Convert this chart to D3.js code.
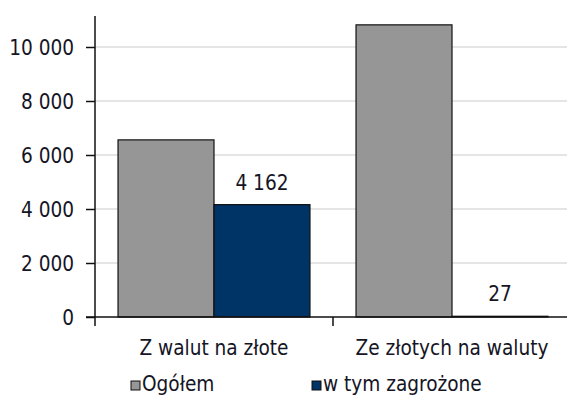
<!DOCTYPE html>
<html><head><meta charset="utf-8">
<script src="https://cdn.jsdelivr.net/npm/d3@7"></script>
<style>body{margin:0;background:#fff}svg{display:block}text{font-family:"DejaVu Sans Condensed","DejaVu Sans",sans-serif;fill:#151525}</style>
</head><body><svg id="c" width="567" height="396"></svg>
<script>
const categories = ["Z walut na złote", "Ze złotych na waluty"];
const seriesNames = ["Ogółem", "w tym zagrożone"];
const ogolem = [6560, 10820];
const zagrozone = [4162, 27];
const yTicks = [0, 2000, 4000, 6000, 8000, 10000];
const colors = ["#969696", "#003366"];

(function () {
const svg = d3.select("#c");
const FS = 20.6;
const mLeft = 95, mRight = 571, mTop = 16, mBottom = 317;
const x = d3.scaleBand().domain(categories).range([mLeft, mRight]);
const xs = d3.scaleBand().domain(seriesNames).range([0, x.bandwidth()]).paddingOuter(0.24).paddingInner(0);
const y = d3.scaleLinear().domain([0, 11148]).range([mBottom, mTop]);
const fmt = v => d3.format(",")(v).replace(/,/g, " ");

svg.append("g").selectAll("line").data(yTicks.filter(d => d > 0)).join("line")
  .attr("x1", mLeft).attr("x2", 567).attr("y1", d => y(d)).attr("y2", d => y(d))
  .attr("stroke", "#dcdcdc").attr("stroke-width", 1.5);

const data = categories.map((c, i) => [ogolem[i], zagrozone[i]]);
const g = svg.append("g").selectAll("g").data(categories).join("g")
  .attr("transform", d => `translate(${x(d)},0)`);
g.selectAll("rect").data((d, i) => data[i].map((v, j) => ({v, s: seriesNames[j], j}))).join("rect")
  .attr("x", d => xs(d.s)).attr("width", xs.bandwidth())
  .attr("y", d => y(d.v)).attr("height", d => mBottom - y(d.v))
  .attr("fill", d => colors[d.j]).attr("stroke", "#111").attr("stroke-width", 1.2);

g.append("text").attr("text-anchor", "middle").attr("font-size", FS)
  .attr("x", d => xs(seriesNames[1]) + xs.bandwidth() / 2)
  .attr("y", (d, i) => y(zagrozone[i]) - 15)
  .text((d, i) => fmt(zagrozone[i]));

const ya = svg.append("g").attr("transform", `translate(${mLeft},0)`)
  .call(d3.axisLeft(y).tickValues(yTicks).tickFormat(fmt).tickSize(9).tickPadding(12));
ya.select(".domain").remove();
ya.selectAll(".tick line").attr("stroke", "#111").attr("stroke-width", 1.5);
ya.selectAll("text").attr("font-size", FS).attr("dy", "0.36em")
  .style("font-family", "'DejaVu Sans Condensed','DejaVu Sans',sans-serif").attr("fill", "#151525");
svg.append("line").attr("x1", mLeft).attr("x2", mLeft).attr("y1", mTop).attr("y2", mBottom + 9)
  .attr("stroke", "#111").attr("stroke-width", 1.5);

svg.append("line").attr("x1", mLeft - 9).attr("x2", 567).attr("y1", mBottom).attr("y2", mBottom)
  .attr("stroke", "#111").attr("stroke-width", 1.5);
svg.append("g").selectAll("line").data(categories.slice(1)).join("line")
  .attr("x1", d => x(d)).attr("x2", d => x(d)).attr("y1", mBottom).attr("y2", mBottom + 9)
  .attr("stroke", "#111").attr("stroke-width", 1.5);
svg.append("g").selectAll("text").data(categories).join("text")
  .attr("x", d => x(d) + x.bandwidth() / 2).attr("y", 355).attr("text-anchor", "middle")
  .attr("font-size", FS).text(d => d);

const lx = [131, 312];
const lg = svg.append("g").selectAll("g").data(seriesNames).join("g")
  .attr("transform", (d, i) => `translate(${lx[i]},381)`);
lg.append("rect").attr("width", 9).attr("height", 9).attr("fill", (d, i) => colors[i]).attr("stroke", "#111").attr("stroke-width", 1);
lg.append("text").attr("x", 11).attr("y", 9.5).attr("font-size", FS).text(d => d);
})();
</script></body></html>
